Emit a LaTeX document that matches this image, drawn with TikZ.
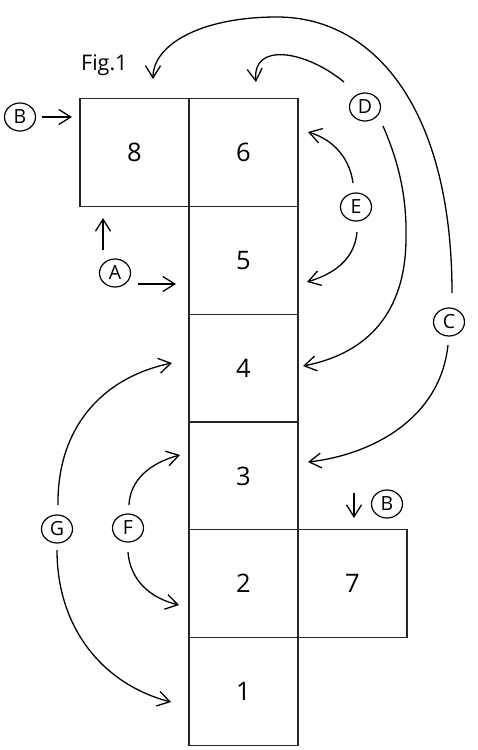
\documentclass[tikz,border=0pt]{standalone}
\usepackage{fontspec}
\setmainfont{Open Sans}
\usetikzlibrary{arrows.meta,shapes.geometric,calc}
\tikzset{
  sq/.style={draw=black!85, line width=1.3pt, minimum width=109pt, minimum height=107.8pt, inner sep=0pt, font=\fontsize{25.5pt}{30pt}\selectfont},
  lbl/.style={draw=black, line width=1.2pt, ellipse, minimum width=31pt, minimum height=28pt, inner sep=0pt, font=\fontsize{19.5pt}{22pt}\selectfont},
  arr/.style={-{Straight Barb[length=12pt,width=15pt]}, line width=1.3pt, black}
}
\begin{document}
\begin{tikzpicture}[x=1pt,y=-1pt]
\useasboundingbox (0,0) rectangle (478,750);
% squares
\node[sq] (s6) at (243.5,152.5) {6};
\node[sq] (s5) at (243.5,260.3) {5};
\node[sq] (s4) at (243.5,368.1) {4};
\node[sq] (s3) at (243.5,475.9) {3};
\node[sq] (s2) at (243.5,583.7) {2};
\node[sq] (s1) at (243.5,691.5) {1};
\node[sq] (s8) at (134.5,152.5) {8};
\node[sq] (s7) at (352.5,583.7) {7};
% caption
\node[anchor=base west, inner sep=0pt, font=\fontsize{21.5pt}{24pt}\selectfont] (fig) at (81,70) {Fig.1};
% labels
\node[lbl] (B1) at (20,117) {B};
\node[lbl] (A) at (115,273) {A};
\node[lbl] (C) at (449,322) {C};
\node[lbl] (D) at (365,107) {D};
\node[lbl] (E) at (356,207) {E};
\node[lbl] (F) at (128,528) {F};
\node[lbl] (G) at (57,529) {G};
\node[lbl] (B2) at (387,504) {B};
% tips
\coordinate (tC1) at (153,79);
\coordinate (tC2) at (308,462);
\coordinate (tD1) at (256,82);
\coordinate (tD2) at (303,366);
\coordinate (tE1) at (308,132);
\coordinate (tE2) at (307,282);
\coordinate (tG1) at (172,363);
\coordinate (tG2) at (171,702);
\coordinate (tF1) at (180,455);
\coordinate (tF2) at (179,605);
\coordinate (tA1) at (103,218);
\coordinate (tA2) at (176,284);
\coordinate (tB1) at (72,117);
\coordinate (tB2) at (354,518);
% straight arrows
\draw[arr] ($(B1)+(22,0)$) -- (tB1);
\draw[arr] ($(A)+(-12,-23)$) -- (tA1);
\draw[arr] ($(A)+(23,11)$) -- (tA2);
\draw[arr] ($(B2)+(-33,-11)$) -- (tB2);
% curved arrows
\draw[arr] ($(C)+(3,-29)$) .. controls (452,110) and (375,17) .. (277,17)
  .. controls (200,17) and (153,45) .. (tC1);
\draw[arr] ($(C)+(-1,23)$) .. controls (440,420) and (370,455) .. (tC2);
\draw[arr] ($(D)+(-21,-25)$) .. controls (305,50) and (252,42) .. (tD1);
\draw[arr] ($(D)+(18,19)$) .. controls (400,165) and (407,200) .. (406,240)
  .. controls (405,320) and (360,355) .. (tD2);
\draw[arr] ($(E)+(-3,-24)$) .. controls (350,160) and (335,140) .. (tE1);
\draw[arr] ($(E)+(1,25)$) .. controls (355,255) and (340,272) .. (tE2);
\draw[arr] ($(G)+(1,-24)$) .. controls (57,430) and (100,378) .. (tG1);
\draw[arr] ($(G)+(0,21)$) .. controls (57,630) and (105,685) .. (tG2);
\draw[arr] ($(F)+(1,-23)$) .. controls (130,480) and (150,463) .. (tF1);
\draw[arr] ($(F)+(0,24)$) .. controls (130,580) and (150,598) .. (tF2);
\end{tikzpicture}
\end{document}
